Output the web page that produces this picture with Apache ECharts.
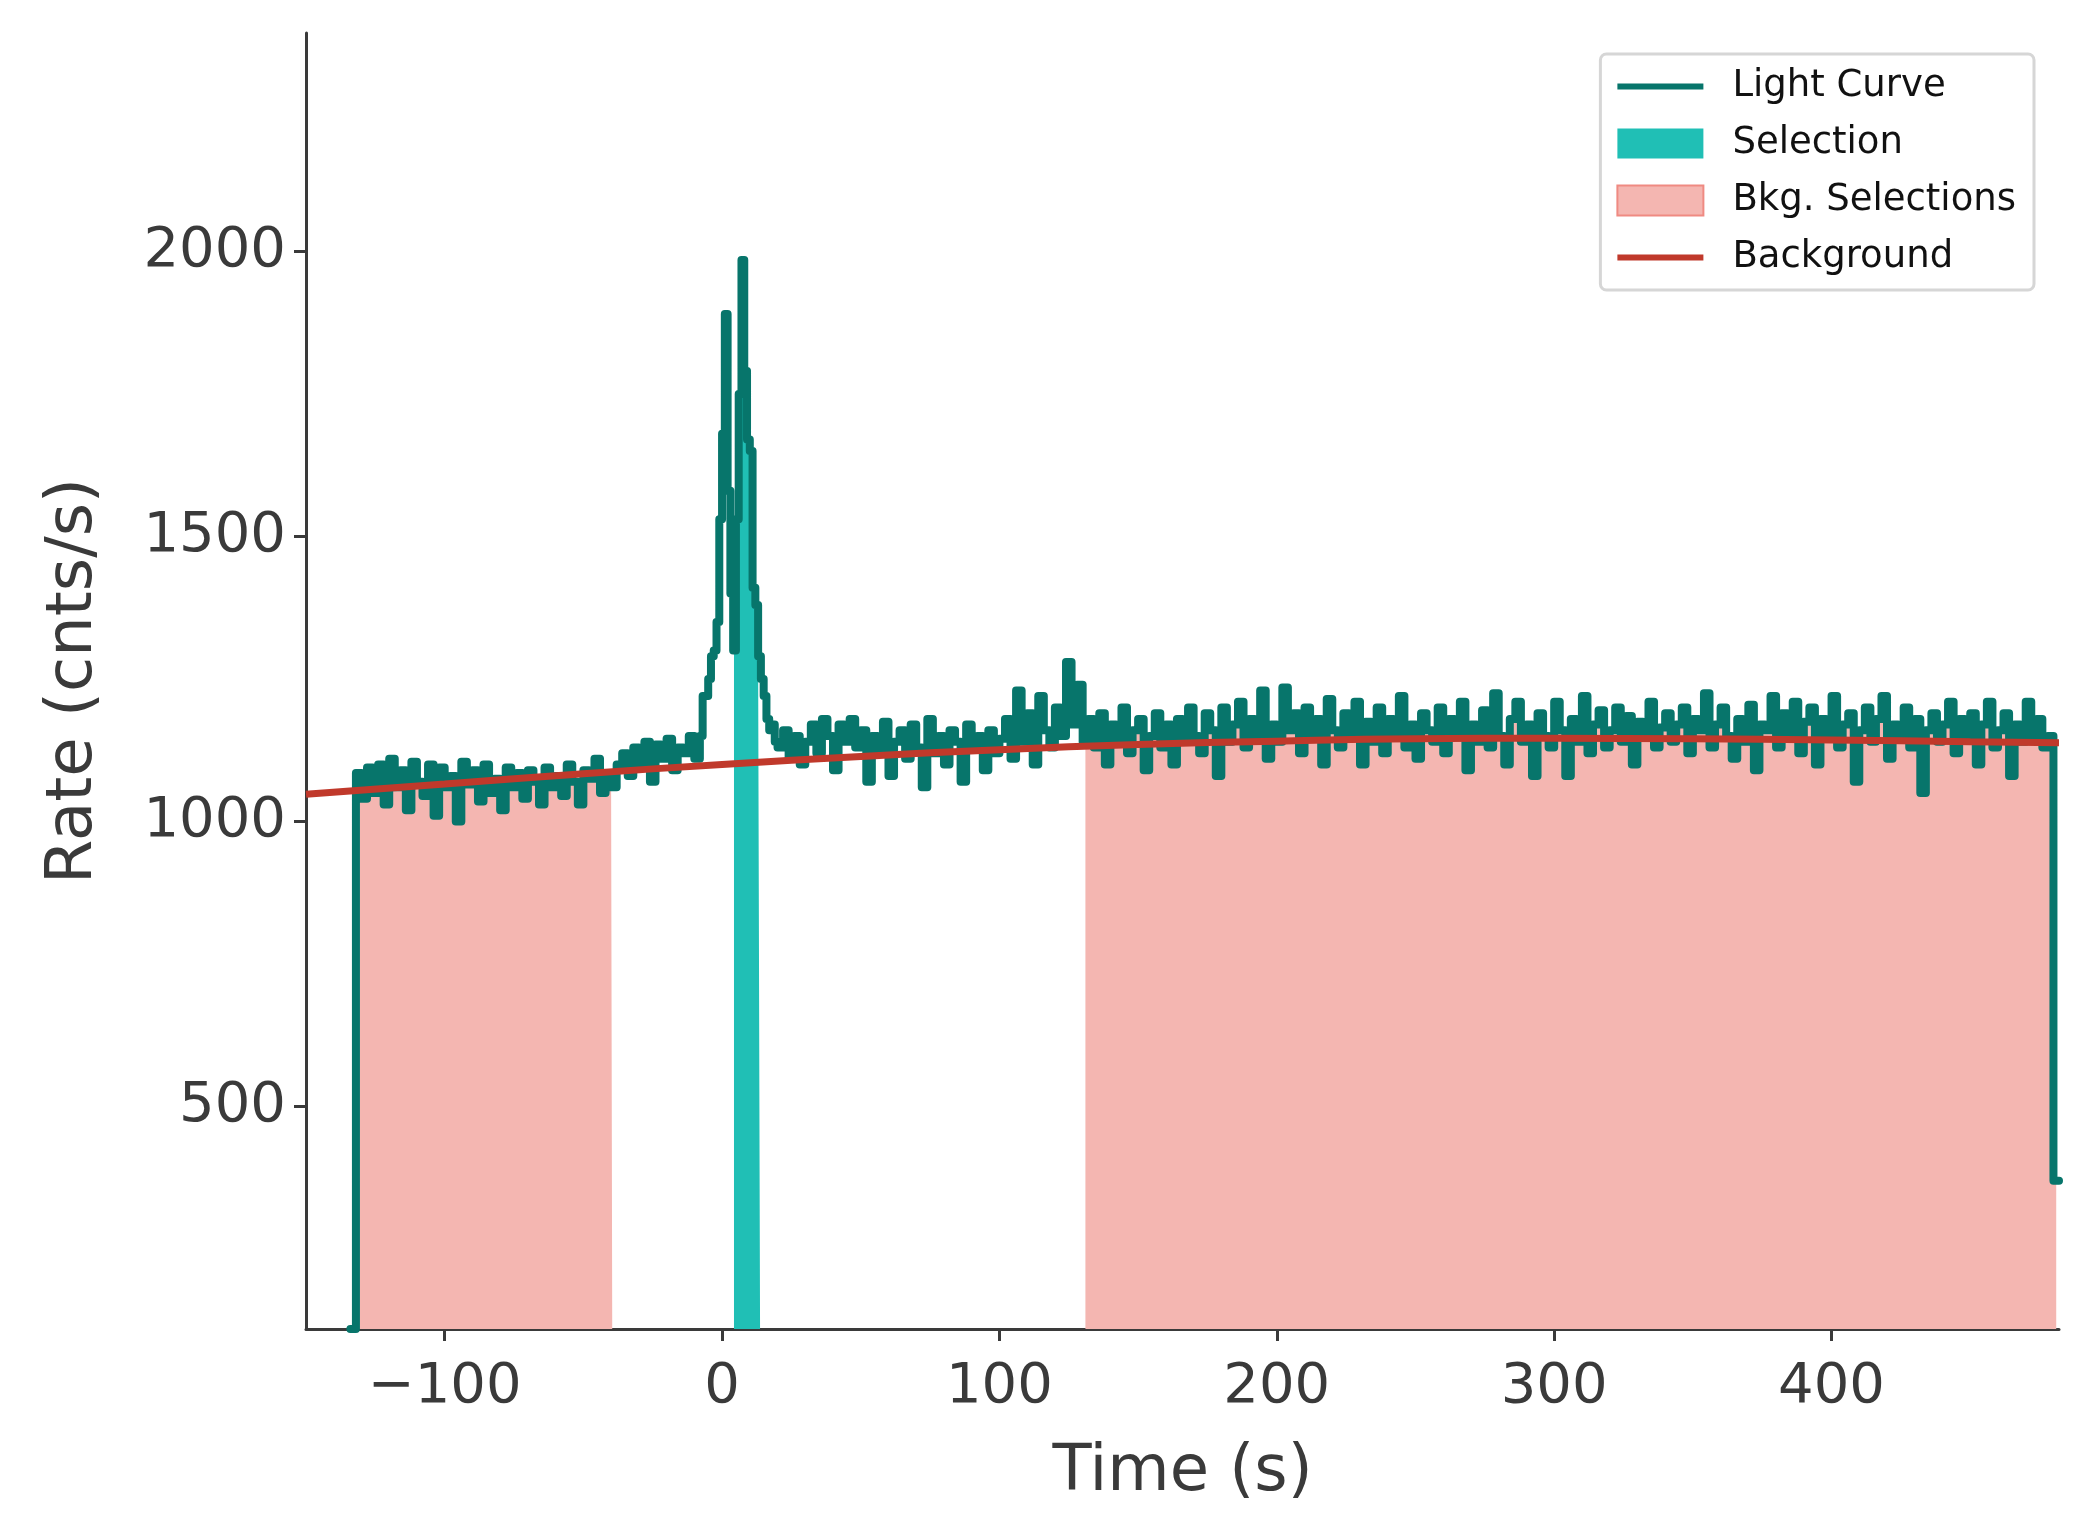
<!DOCTYPE html>
<html>
<head>
<meta charset="utf-8">
<title>light curve</title>
<script src="https://cdn.jsdelivr.net/npm/echarts@6/dist/echarts.min.js"></script>
</head>
<body style="margin:0;background:#fff">
<div id="main" style="width:2074px;height:1540px"></div>
<script>
// light curve, in three pieces: start time, bin width, rates
var preStart = -134, preStep = 2;
var preRates = [
  110,1085,1040,1095,1050,1100,1030,1110,1060,1090,
  1020,1105,1070,1045,1100,1010,1095,1060,1080,1000,
  1105,1065,1090,1035,1100,1050,1075,1020,1095,1060,
  1085,1040,1090,1070,1030,1095,1060,1080,1045,1100,
  1070,1030,1090,1075,1110,1050,1085,1060,1100,1120,
  1080,1130,1100,1140,1070,1135,1110,1145,1090,1130,
  1120,1150,1110
];
var burstStart = -8, burstStep = 1;
var burstRates = [
  1150,1220,1220,1250,1290,1300,1350,1530,1680,1890,
  1580,1400,1300,1530,1750,1985,1790,1670,1650,1410,
  1380,1290,1250,1220,1180,1160,1170,1140
];
var postStart = 20, postStep = 2;
var postRates = [
  1130,1160,1110,1150,1100,1140,1170,1120,1180,1150,
  1090,1170,1140,1180,1130,1160,1070,1150,1120,1175,
  1080,1140,1160,1110,1170,1130,1060,1180,1120,1150,
  1100,1160,1140,1070,1170,1130,1150,1090,1160,1120,
  1145,1180,1110,1230,1140,1190,1100,1220,1160,1130,
  1200,1150,1280,1170,1240,1140,1180,1130,1190,1100,
  1170,1140,1200,1120,1160,1180,1090,1150,1190,1130,
  1170,1100,1180,1140,1200,1150,1120,1190,1160,1080,
  1200,1140,1170,1210,1130,1180,1150,1230,1110,1170,
  1140,1235,1160,1190,1120,1200,1150,1180,1100,1215,
  1160,1130,1190,1150,1210,1100,1175,1140,1200,1120,
  1180,1150,1220,1130,1170,1110,1190,1160,1140,1200,
  1120,1180,1150,1210,1090,1170,1140,1195,1130,1225,
  1150,1100,1180,1210,1140,1170,1080,1190,1150,1130,
  1210,1160,1080,1180,1140,1220,1120,1170,1195,1130,
  1160,1200,1140,1185,1100,1175,1150,1210,1130,1165,
  1190,1140,1170,1200,1120,1180,1160,1225,1130,1170,
  1200,1150,1110,1180,1140,1205,1090,1170,1160,1220,
  1130,1190,1150,1210,1120,1175,1200,1100,1180,1150,
  1220,1130,1170,1190,1070,1160,1200,1140,1180,1220,
  1110,1170,1150,1200,1130,1180,1050,1160,1190,1140,
  1170,1210,1120,1180,1150,1190,1100,1170,1210,1130,
  1160,1190,1080,1170,1140,1210,1150,1180,1130,1150,
  370,370
];

var selRange = [4.3, 13.7];
var bkgRanges = [[-131, -39.6], [131, 481]];

// fitted background
var bkgTimes = [-150, -100, -50, 0, 50, 100, 150, 200, 250, 300, 350, 400, 450, 482];
var bkgRates = [1048, 1066, 1084, 1100, 1114, 1126, 1135, 1141, 1145, 1146, 1145, 1143, 1140, 1138];

var xTicks = [-100, 0, 100, 200, 300, 400];
var yTicks = [500, 1000, 1500, 2000];

var curve = [];
function addPiece(start, step, rates) {
  rates.forEach(function (v, i) { curve.push([start + i * step, v]); });
}
addPiece(preStart, preStep, preRates);
addPiece(burstStart, burstStep, burstRates);
addPiece(postStart, postStep, postRates);

function rateAt(t) {
  var v = curve[0][1];
  for (var i = 0; i < curve.length; i++) { if (curve[i][0] <= t) v = curve[i][1]; }
  return v;
}
function clip(a, b) {
  var out = [[a, rateAt(a)]];
  curve.forEach(function (p) { if (p[0] > a && p[0] < b) out.push(p); });
  out.push([b, rateAt(b)]);
  return out;
}
var bkgLine = bkgTimes.map(function (t, i) { return [t, bkgRates[i]]; });

var font = 'DejaVu Sans';
var axisColor = '#3a3a3a';
// thick bar icon inside the full icon box (the two specks set the box height)
var lineIcon = 'path://M0,12H86V18H0Z M0,0H0.05V0.05H0Z M0,29.95H0.05V30H0Z';

var series = [];
bkgRanges.forEach(function (r) {
  series.push({ name: 'Bkg. Selections', type: 'line', step: 'end', data: clip(r[0], r[1]), symbol: 'none',
    lineStyle: { color: '#ef8a82', width: 2 }, itemStyle: { color: '#f4b6b1', borderColor: '#ef8a82', borderWidth: 3 },
    areaStyle: { color: '#f4b6b1', opacity: 1, origin: 'start' }, z: 1 });
});
series.push(
  { name: 'Selection', type: 'line', step: 'end', data: clip(selRange[0], selRange[1]), symbol: 'none',
    lineStyle: { width: 0 }, itemStyle: { color: '#20bfb5' },
    areaStyle: { color: '#20bfb5', opacity: 1, origin: 'start' }, z: 2 },
  { name: 'Light Curve', type: 'line', step: 'end', data: curve, symbol: 'none',
    lineStyle: { color: '#07756b', width: 8, join: 'round', cap: 'round' }, itemStyle: { color: '#07756b' }, z: 3 },
  { name: 'Background', type: 'line', smooth: true, data: bkgLine, symbol: 'none',
    lineStyle: { color: '#c0392b', width: 7 }, itemStyle: { color: '#c0392b' }, z: 4 }
);

var chart = echarts.init(document.getElementById('main'));
chart.setOption({
  animation: false,
  textStyle: { fontFamily: font },
  grid: { left: 306, right: 15, top: 33, bottom: 211 },
  legend: {
    right: 40, top: 54,
    orient: 'vertical',
    itemWidth: 86, itemHeight: 30, itemGap: 20,
    padding: [14, 18, 14, 16],
    borderColor: '#d6d6d6', borderWidth: 3, borderRadius: 6,
    backgroundColor: '#fff',
    textStyle: { fontSize: 37, color: '#111', fontFamily: font, padding: [0, 0, 0, 24] },
    data: [
      { name: 'Light Curve', icon: lineIcon },
      { name: 'Selection', icon: 'rect' },
      { name: 'Bkg. Selections', icon: 'rect' },
      { name: 'Background', icon: lineIcon }
    ]
  },
  xAxis: {
    type: 'value', min: -150, max: 482,
    name: 'Time (s)', nameLocation: 'middle', nameGap: 112,
    nameTextStyle: { fontSize: 64, color: axisColor },
    splitLine: { show: false },
    axisLine: { onZero: false, lineStyle: { color: axisColor, width: 3 } },
    axisTick: { customValues: xTicks, length: 12, lineStyle: { color: axisColor, width: 3 } },
    axisLabel: { customValues: xTicks, fontSize: 56, color: axisColor, margin: 30,
      formatter: function (v) { return String(v).replace('-', '\u2212'); } }
  },
  yAxis: {
    type: 'value', min: 110, max: 2383,
    name: 'Rate (cnts/s)', nameLocation: 'middle', nameGap: 200,
    nameTextStyle: { fontSize: 64, color: axisColor },
    splitLine: { show: false },
    axisLine: { show: true, onZero: false, lineStyle: { color: axisColor, width: 3 } },
    axisTick: { show: true, customValues: yTicks, length: 12, lineStyle: { color: axisColor, width: 3 } },
    axisLabel: { customValues: yTicks, fontSize: 56, color: axisColor, margin: 20,
      formatter: function (v) { return String(v); } }
  },
  series: series
});
</script>
</body>
</html>
